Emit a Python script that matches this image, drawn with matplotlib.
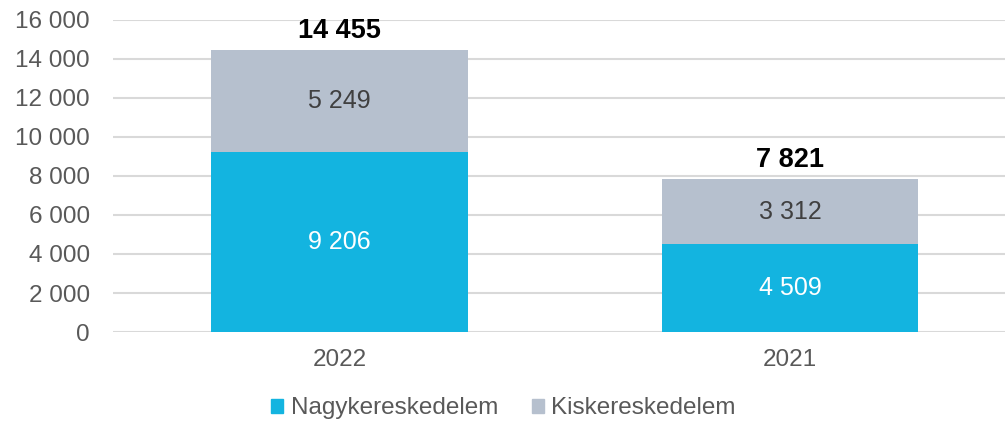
import numpy as np
import matplotlib
matplotlib.use('Agg')
import matplotlib.pyplot as plt
from matplotlib.patches import Patch

years = ['2022', '2021']
nagyker = [9206, 4509]
kisker = [5249, 3312]
series_names = ['Nagykereskedelem', 'Kiskereskedelem']
yticks = [0, 2000, 4000, 6000, 8000, 10000, 12000, 14000, 16000]

def fmt(v):
	return '{:,}'.format(v).replace(',', ' ')

plt.rcParams['font.family'] = ['Liberation Sans', 'DejaVu Sans']

fig = plt.figure(figsize=(10.07, 4.21), dpi=100)
ax = fig.add_axes([0.112, 0.2114, 0.886, 0.7411])

x = np.arange(len(years))
w = 0.57
c1 = '#13B4E0'
c2 = '#B6C0CE'

ax.bar(x, nagyker, w, color=c1, zorder=3)
ax.bar(x, kisker, w, bottom=nagyker, color=c2, zorder=3)

for i in range(len(years)):
	ax.text(x[i], nagyker[i] / 2, fmt(nagyker[i]), ha='center', va='center',
		color='white', fontsize=18, zorder=4)
	ax.text(x[i], nagyker[i] + kisker[i] / 2, fmt(kisker[i]), ha='center', va='center',
		color='#404040', fontsize=18, zorder=4)
	total = nagyker[i] + kisker[i]
	ax.text(x[i], total + 1000, fmt(total), ha='center', va='center',
		color='black', fontsize=19.5, fontweight='bold', zorder=4)

ax.set_ylim(0, 16000)
ax.set_xlim(-0.503, 1.477)
ax.set_yticks(yticks)
ax.set_yticklabels([fmt(v) for v in yticks])
ax.set_xticks(x)
ax.set_xticklabels(years)
ax.tick_params(axis='both', length=0, labelsize=17.5, labelcolor='#595959')
ax.tick_params(axis='y', pad=16.5)
ax.tick_params(axis='x', pad=12)
ax.yaxis.grid(True, color='#D9D9D9', linewidth=1.5, zorder=0)
for s in ax.spines.values():
	s.set_visible(False)

handles = [Patch(color=c1), Patch(color=c2)]
fig.legend(handles, series_names, loc='center', bbox_to_anchor=(0.5, 0.03),
	ncol=2, frameon=False, fontsize=17.5, handlelength=0.5, handleheight=0.5,
	handletextpad=0.3, columnspacing=1.4, labelcolor='#595959')

fig.savefig('out.png', dpi=100)
